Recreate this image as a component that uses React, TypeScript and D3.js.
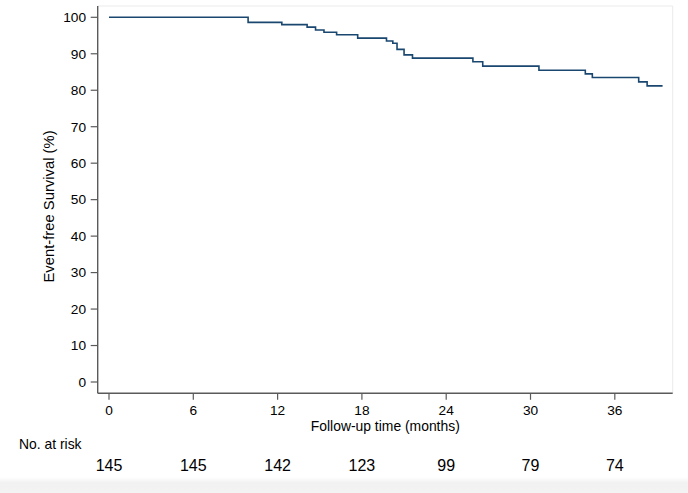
import React from "react";
import * as d3 from "d3";

const eventTimes = [0, 9.9, 12.3, 14.1, 14.7, 15.3, 16.2, 17.7, 19.75, 20.2, 20.5, 21.0, 21.6, 25.9, 26.6, 30.6, 33.9, 34.4, 37.7, 38.3, 39.4];
const survival = [100, 98.6, 98.0, 97.3, 96.5, 95.9, 95.2, 94.3, 93.5, 92.9, 91.2, 89.7, 88.8, 87.8, 86.6, 85.5, 84.5, 83.5, 82.3, 81.2, 81.2];
const xTicks = [0, 6, 12, 18, 24, 30, 36];
const yTicks = [0, 10, 20, 30, 40, 50, 60, 70, 80, 90, 100];
const atRisk = [145, 145, 142, 123, 99, 79, 74];

const W = 688;
const H = 493;
const axisLeft = 97.7;
const axisBottom = 393.3;
const plotTop = 6;
const plotRight = 672.7;
const font = "'Liberation Sans', Arial, Helvetica, sans-serif";

export default function App() {
  const x = d3.scaleLinear().domain([0, 40.12]).range([109, plotRight]);
  const y = d3.scaleLinear().domain([0, 100]).range([382, 17.3]);
  const pts: [number, number][] = eventTimes.map((t, i) => [t, survival[i]]);
  const line = d3
    .line<[number, number]>()
    .x((d) => x(d[0]))
    .y((d) => y(d[1]))
    .curve(d3.curveStepAfter);
  const axisColor = "#5a5a5a";
  return (
    <svg
      width={W}
      height={H}
      style={{ position: "absolute", left: 0, top: 0, background: "#fff" }}
      fontFamily={font}
    >
      <defs>
        <linearGradient id="bottomFade" x1="0" y1="0" x2="0" y2="1">
          <stop offset="0" stopColor="#ffffff" />
          <stop offset="0.35" stopColor="#f1f1f1" />
          <stop offset="1" stopColor="#f3f3f3" />
        </linearGradient>
      </defs>
      <rect x={0} y={0} width={W} height={H} fill="#fff" />
      <rect x={0} y={477} width={W} height={16} fill="url(#bottomFade)" />
      <line x1={axisLeft} x2={plotRight} y1={plotTop} y2={plotTop} stroke="#ebebeb" strokeWidth={1} />
      <line x1={plotRight} x2={plotRight} y1={plotTop} y2={axisBottom} stroke="#ebebeb" strokeWidth={1} />
      <line x1={axisLeft} x2={axisLeft} y1={plotTop} y2={axisBottom} stroke={axisColor} strokeWidth={1.4} />
      <line x1={axisLeft} x2={plotRight} y1={axisBottom} y2={axisBottom} stroke={axisColor} strokeWidth={1.4} />
      {yTicks.map((t) => (
        <g key={"y" + t}>
          <line x1={axisLeft - 7} x2={axisLeft} y1={y(t)} y2={y(t)} stroke={axisColor} strokeWidth={1.2} />
          <text x={86} y={y(t) + 4.8} textAnchor="end" fontSize={13.7} fill="#000">
            {t}
          </text>
        </g>
      ))}
      {xTicks.map((t, i) => (
        <g key={"x" + t}>
          <line x1={x(t)} x2={x(t)} y1={axisBottom} y2={axisBottom + 6.5} stroke={axisColor} strokeWidth={1.2} />
          <text x={x(t)} y={415} textAnchor="middle" fontSize={13.7} fill="#000">
            {t}
          </text>
          <text x={x(t)} y={471} textAnchor="middle" fontSize={16} fill="#000">
            {atRisk[i]}
          </text>
        </g>
      ))}
      <text x={385.3} y={431} textAnchor="middle" fontSize={13.9} fill="#000">
        Follow-up time (months)
      </text>
      <text x={19} y={449} fontSize={13.9} fill="#000">
        No. at risk
      </text>
      <text
        transform={`translate(53.5, 206.5) rotate(-90)`}
        textAnchor="middle"
        fontSize={14.8}
        fill="#000"
      >
        Event-free Survival (%)
      </text>
      <path d={line(pts) || ""} fill="none" stroke="#1a476f" strokeWidth={1.6} />
    </svg>
  );
}
